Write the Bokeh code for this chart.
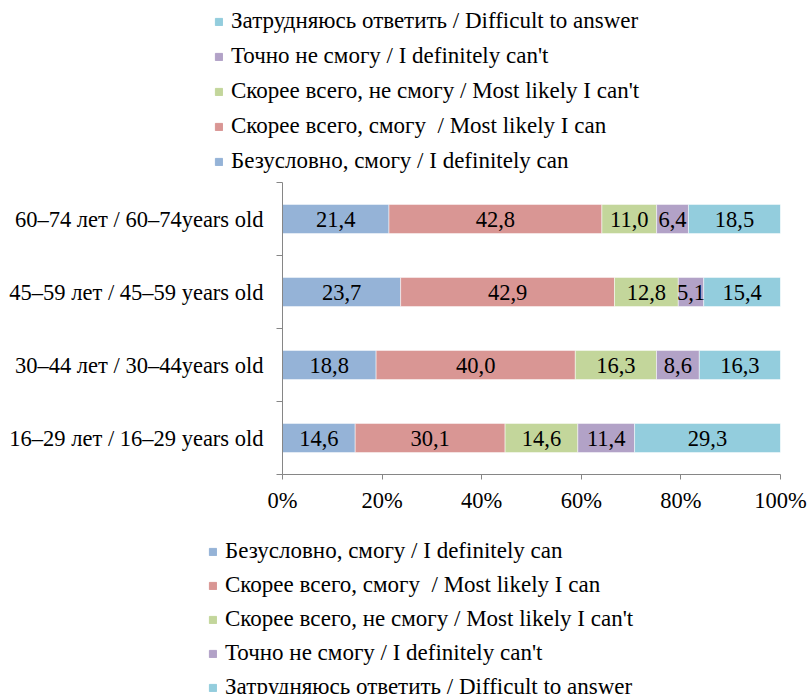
import pandas as pd
from bokeh.plotting import figure
from bokeh.layouts import column
from bokeh.models import (ColumnDataSource, FixedTicker, Legend, LegendItem,
                          Range1d)
from bokeh.core.properties import value
from bokeh.embed import file_html
from bokeh.resources import INLINE

FONT = "Liberation Serif"
FS = "22.5px"
LFS = "23px"

categories = ["16–29 лет / 16–29 years old",
              "30–44 лет / 30–44years old",
              "45–59 лет / 45–59 years old",
              "60–74 лет / 60–74years old"]
series_names = ["Безусловно, смогу / I definitely can",
                "Скорее всего, смогу  / Most likely I can",
                "Скорее всего, не смогу / Most likely I can't",
                "Точно не смогу / I definitely can't",
                "Затрудняюсь ответить / Difficult to answer"]
definitely_can = [14.6, 18.8, 23.7, 21.4]
likely_can = [30.1, 40.0, 42.9, 42.8]
likely_cant = [14.6, 16.3, 12.8, 11.0]
definitely_cant = [11.4, 8.6, 5.1, 6.4]
difficult = [29.3, 16.3, 15.4, 18.5]
colors = ["#95B3D7", "#D99694", "#C3D69B", "#B2A2C7", "#93CDDD"]
x_ticks = [0, 20, 40, 60, 80, 100]

keys = ["s0", "s1", "s2", "s3", "s4"]
df = pd.DataFrame({"s0": definitely_can, "s1": likely_can, "s2": likely_cant,
                   "s3": definitely_cant, "s4": difficult})
total = df.sum(axis=1)
for k in keys:
    df[k] = df[k] / total * 100
df["y"] = [i + 0.5 for i in range(len(categories))]
source = ColumnDataSource(df)

W = 809
TOP_H, MAIN_H, BOT_H = 178, 342, 174

p = figure(width=W, height=MAIN_H, output_backend="svg", toolbar_location=None,
           x_range=Range1d(0, 100), y_range=Range1d(0, 4),
           min_border_left=282, min_border_right=29, min_border_top=4,
           min_border_bottom=46, frame_align=False)
p.outline_line_color = None
p.xgrid.grid_line_color = None
p.ygrid.grid_line_color = None

rs = p.hbar_stack(keys, y="y", height=0.4, color=colors, source=source,
                  line_color="white", line_width=0.5)

# labels
raw = [definitely_can, likely_can, likely_cant, definitely_cant, difficult]
lx, ly, lt = [], [], []
for i in range(len(categories)):
    cum = 0
    for j, k in enumerate(keys):
        v = df[k][i]
        lx.append(cum + v / 2)
        ly.append(df["y"][i])
        lt.append(f"{raw[j][i]:.1f}".replace(".", ","))
        cum += v
p.text(x=lx, y=ly, text=lt, text_align="center", text_baseline="middle",
       text_font=value(FONT), text_font_size=FS, text_color="black")

# axes
axis_color = "#868686"
p.xaxis.ticker = FixedTicker(ticks=x_ticks)
p.xaxis.major_label_overrides = {t: f"{t}%" for t in x_ticks}
p.xaxis.minor_tick_line_color = None
p.xaxis.major_tick_in = 0
p.xaxis.major_tick_out = 5
p.xaxis.axis_line_color = axis_color
p.xaxis.major_tick_line_color = axis_color
p.xaxis.major_label_text_font = FONT
p.xaxis.major_label_text_font_size = FS
p.xaxis.major_label_text_color = "black"
p.xaxis.major_label_standoff = 8

p.yaxis.ticker = FixedTicker(ticks=df["y"].tolist(), minor_ticks=[0, 1, 2, 3, 4])
p.yaxis.major_label_overrides = {df["y"][i]: c for i, c in enumerate(categories)}
p.yaxis.major_tick_line_color = None
p.yaxis.major_tick_in = 0
p.yaxis.major_tick_out = 0
p.yaxis.minor_tick_in = 0
p.yaxis.minor_tick_out = 6
p.yaxis.minor_tick_line_color = axis_color
p.yaxis.axis_line_color = axis_color
p.yaxis.major_label_text_font = FONT
p.yaxis.major_label_text_font_size = FS
p.yaxis.major_label_text_color = "black"
p.yaxis.major_label_standoff = 13


def legend_fig(height, order, loc, spacing):
    f = figure(width=W, height=height, output_backend="svg",
               toolbar_location=None, x_range=Range1d(0, 100),
               y_range=Range1d(100, 101), x_axis_type=None, y_axis_type=None,
               min_border=0, frame_align=False)
    f.outline_line_color = None
    f.xgrid.grid_line_color = None
    f.ygrid.grid_line_color = None
    lrs = f.hbar_stack(keys, y="y", height=0.4, color=colors, source=source)
    items = [LegendItem(label=series_names[j], renderers=[lrs[j]]) for j in order]
    lg = Legend(items=items, location=loc, orientation="vertical",
                label_text_font=FONT, label_text_font_size=LFS,
                label_text_color="black", glyph_width=9, glyph_height=9,
                label_standoff=8, label_height=24, spacing=spacing, padding=0,
                margin=0, border_line_color=None, background_fill_alpha=0)
    f.add_layout(lg, "center")
    return f


top = legend_fig(TOP_H, [4, 3, 2, 1, 0], (214, 4), 9)
bottom = legend_fig(BOT_H, [0, 1, 2, 3, 4], (208, -6), 8)

layout = column(top, p, bottom, spacing=0)
open("out.html", "w").write(file_html(layout, INLINE))
